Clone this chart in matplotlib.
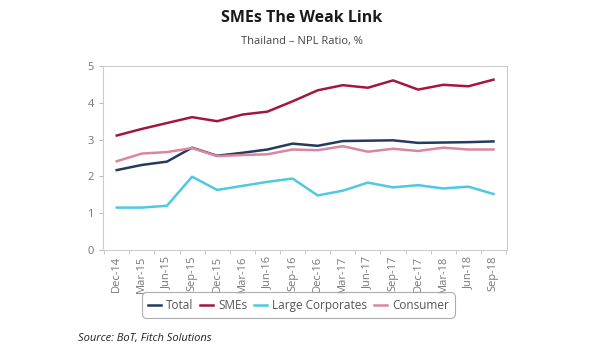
import matplotlib
matplotlib.use("Agg")
import matplotlib.pyplot as plt
import numpy as np

categories = ["Dec-14", "Mar-15", "Jun-15", "Sep-15", "Dec-15", "Mar-16", "Jun-16", "Sep-16",
              "Dec-16", "Mar-17", "Jun-17", "Sep-17", "Dec-17", "Mar-18", "Jun-18", "Sep-18"]
total = [2.17, 2.31, 2.40, 2.78, 2.56, 2.64, 2.73, 2.89, 2.83, 2.96, 2.97, 2.98, 2.91, 2.92, 2.93, 2.95]
smes = [3.11, 3.29, 3.45, 3.61, 3.50, 3.68, 3.76, 4.04, 4.34, 4.48, 4.41, 4.61, 4.36, 4.49, 4.45, 4.63]
large_corp = [1.15, 1.15, 1.20, 1.99, 1.63, 1.74, 1.85, 1.94, 1.48, 1.61, 1.83, 1.70, 1.76, 1.67, 1.72, 1.52]
consumer = [2.41, 2.62, 2.66, 2.77, 2.55, 2.58, 2.60, 2.73, 2.71, 2.82, 2.67, 2.75, 2.69, 2.78, 2.73, 2.73]

plt.rcParams['font.family'] = ['Open Sans', 'DejaVu Sans']

fig = plt.figure(figsize=(6.09, 3.59), dpi=100)
ax = fig.add_axes([0.169, 0.304, 0.664, 0.512])
x = np.arange(len(categories))
ax.plot(x, total, color="#243a5e", lw=1.8, label="Total")
ax.plot(x, smes, color="#a3173f", lw=1.8, label="SMEs")
ax.plot(x, large_corp, color="#4ec9e0", lw=1.8, label="Large Corporates")
ax.plot(x, consumer, color="#d9869f", lw=1.8, label="Consumer")

ax.set_xlim(-0.55, len(categories) - 0.45)
ax.set_ylim(0, 5)
ax.set_yticks(range(6))
ax.set_xticks(x)
ax.set_xticklabels(categories, rotation=90, fontsize=8, color="#777777")
ax.set_xticks(np.arange(-0.5, len(categories), 1), minor=True)
ax.tick_params(axis='x', which='major', length=0, pad=4)
ax.tick_params(axis='x', which='minor', length=3, color="#bbbbbb")
ax.tick_params(axis='y', labelsize=8, labelcolor="#777777", length=3, color="#bbbbbb")
for s in ax.spines.values():
    s.set_color("#cccccc")
    s.set_linewidth(0.8)

leg = fig.legend(loc="center", bbox_to_anchor=(0.490, 0.150), ncol=4, frameon=True,
                 fontsize=8.5, handlelength=1.1, handletextpad=0.4, columnspacing=0.6,
                 labelcolor="#555555", borderpad=0.35)
leg.get_frame().set_edgecolor("#999999")
leg.get_frame().set_linewidth(0.8)
leg.get_frame().set_boxstyle("round,pad=0.2,rounding_size=0.4")

fig.text(0.495, 0.950, "SMEs The Weak Link", ha="center", va="center", fontsize=11.5,
         fontweight="bold", color="#1a1a1a")
fig.text(0.495, 0.885, "Thailand \u2013 NPL Ratio, %", ha="center", va="center", fontsize=8,
         color="#444444")
fig.text(0.128, 0.056, "Source: BoT, Fitch Solutions", ha="left", va="center", fontsize=8,
         style="italic", color="#222222")

fig.savefig("out.png", dpi=100)
